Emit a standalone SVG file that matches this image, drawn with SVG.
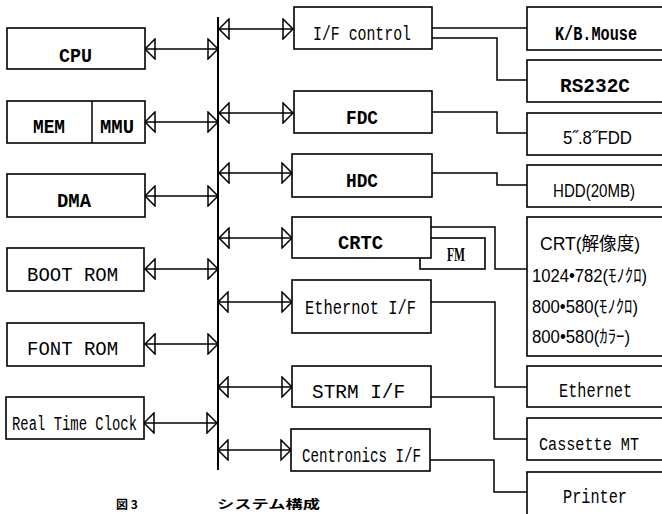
<svg xmlns="http://www.w3.org/2000/svg" width="662" height="514" viewBox="0 0 662 514">
<defs>
<style>
rect{fill:#fff;stroke:#000;stroke-width:1.6}
.c{fill:none;stroke:#000;stroke-width:1.5}
.ar{marker-start:url(#tri);marker-end:url(#tri)}
text{font-family:"Liberation Mono","DejaVu Sans Mono","Noto Sans CJK JP",monospace;font-size:20px;fill:#000}
.b{font-weight:bold}
.j{font-family:"Liberation Sans","Noto Sans CJK JP",sans-serif;font-size:18px}
.cap{font-family:"Noto Sans CJK JP",sans-serif;font-size:12px;font-weight:bold}
</style>
<marker id="tri" viewBox="-12 -11 13 22" refX="0" refY="0" markerWidth="13" markerHeight="22" markerUnits="userSpaceOnUse" orient="auto-start-reverse">
<path d="M0,0 L-10,-10 L-10,10 Z" fill="none" stroke="#000" stroke-width="1.5"/>
</marker>
</defs>
<rect width="662" height="514" style="fill:#fff;stroke:none"/>

<g id="connectors">
<line class="c" x1="218" y1="17" x2="218" y2="470" style="stroke-width:2"/>
<path class="c ar" d="M145,49 H218"/>
<path class="c ar" d="M145,122 H218"/>
<path class="c ar" d="M145,196 H218"/>
<path class="c ar" d="M145,269 H218"/>
<path class="c ar" d="M145,344 H218"/>
<path class="c ar" d="M144,423 H217"/>
<path class="c ar" d="M219,29 H293"/>
<path class="c ar" d="M219,113 H293"/>
<path class="c ar" d="M219,173 H292"/>
<path class="c ar" d="M219,238 H292"/>
<path class="c ar" d="M218,302 H292"/>
<path class="c ar" d="M218,387 H292"/>
<path class="c ar" d="M218,450 H291"/>
<path class="c" d="M432,28 H527"/>
<path class="c" d="M432,38 H497 V80 H527"/>
<path class="c" d="M432,112 H497 V133 H527"/>
<path class="c" d="M432,173 H497 V185 H527"/>
<path class="c" d="M431,227 H495 V269 H527"/>
<path class="c" d="M431,302 H495 V387 H527"/>
<path class="c" d="M431,397 H494 V439 H527"/>
<path class="c" d="M430,460 H494 V492 H527"/>
</g>

<g id="cpu"><rect x="7" y="28" width="138" height="41"/><text class="b" x="59" y="62" textLength="33" lengthAdjust="spacingAndGlyphs">CPU</text></g>
<g id="mem"><rect x="7" y="101" width="138" height="42"/><line class="c" x1="92" y1="101" x2="92" y2="143"/><text class="b" x="33" y="133" textLength="32" lengthAdjust="spacingAndGlyphs">MEM</text><text class="b" x="100" y="133" textLength="34" lengthAdjust="spacingAndGlyphs">MMU</text></g>
<g id="dma"><rect x="7" y="174" width="138" height="43"/><text class="b" x="57" y="207" textLength="34" lengthAdjust="spacingAndGlyphs">DMA</text></g>
<g id="bootrom"><rect x="7" y="248" width="137" height="43"/><text x="27" y="281" textLength="91" lengthAdjust="spacingAndGlyphs">BOOT ROM</text></g>
<g id="fontrom"><rect x="7" y="323" width="137" height="43"/><text x="27" y="355" textLength="91" lengthAdjust="spacingAndGlyphs">FONT ROM</text></g>
<g id="rtc"><rect x="6" y="397" width="138" height="42"/><text x="12" y="430" textLength="125" lengthAdjust="spacingAndGlyphs">Real Time Clock</text></g>

<g id="ifcontrol"><rect x="294" y="7" width="138" height="42"/><text x="313" y="40" textLength="98" lengthAdjust="spacingAndGlyphs">I/F control</text></g>
<g id="fdc"><rect x="294" y="91" width="138" height="42"/><text class="b" x="346" y="124" textLength="32" lengthAdjust="spacingAndGlyphs">FDC</text></g>
<g id="hdc"><rect x="292" y="154" width="140" height="43"/><text class="b" x="346" y="187" textLength="32" lengthAdjust="spacingAndGlyphs">HDC</text></g>
<g id="fm"><rect x="420" y="238" width="65" height="31"/><text class="b" x="447" y="261" textLength="18" lengthAdjust="spacingAndGlyphs" style="font-family:'Liberation Serif',serif;font-size:18px">FM</text></g>
<g id="crtc"><rect x="292" y="217" width="139" height="41"/><text class="b" x="338" y="249" textLength="45" lengthAdjust="spacingAndGlyphs">CRTC</text></g>
<g id="ethernetif"><rect x="292" y="280" width="139" height="53"/><text x="305" y="314" textLength="111" lengthAdjust="spacingAndGlyphs">Ethernot I/F</text></g>
<g id="strmif"><rect x="292" y="366" width="139" height="41"/><text x="312" y="398" textLength="93" lengthAdjust="spacingAndGlyphs">STRM I/F</text></g>
<g id="centronicsif"><rect x="291" y="429" width="139" height="42"/><text x="302" y="462" textLength="119" lengthAdjust="spacingAndGlyphs">Centronics I/F</text></g>

<g id="kbmouse"><rect x="527" y="7" width="145" height="43"/><text class="b" x="555" y="40" textLength="82" lengthAdjust="spacingAndGlyphs">K/B.Mouse</text></g>
<g id="rs232c"><rect x="527" y="60" width="145" height="42"/><text class="b" x="560" y="92" textLength="70" lengthAdjust="spacingAndGlyphs">RS232C</text></g>
<g id="fdd"><rect x="527" y="113" width="145" height="42"/><text class="j" x="563" y="144" textLength="69" lengthAdjust="spacingAndGlyphs">5˝.8˝FDD</text></g>
<g id="hdd"><rect x="527" y="165" width="145" height="42"/><text class="j" x="553" y="197" textLength="82" lengthAdjust="spacingAndGlyphs">HDD(20MB)</text></g>
<g id="crt"><rect x="527" y="217" width="145" height="139"/>
<text class="j" x="540" y="250" textLength="100" lengthAdjust="spacingAndGlyphs">CRT(解像度)</text>
<text class="j" x="532" y="282" textLength="115" lengthAdjust="spacingAndGlyphs">1024•782(ﾓﾉｸﾛ)</text>
<text class="j" x="532" y="313" textLength="106" lengthAdjust="spacingAndGlyphs">800•580(ﾓﾉｸﾛ)</text>
<text class="j" x="532" y="343" textLength="98" lengthAdjust="spacingAndGlyphs">800•580(ｶﾗｰ)</text></g>
<g id="ethernet"><rect x="527" y="366" width="145" height="41"/><text x="559" y="397" textLength="73" lengthAdjust="spacingAndGlyphs">Ethernet</text></g>
<g id="cassette"><rect x="527" y="418" width="145" height="42"/><text x="539" y="450" textLength="100" lengthAdjust="spacingAndGlyphs" style="font-size:18px">Cassette MT</text></g>
<g id="printer"><rect x="527" y="472" width="145" height="50"/><text x="563" y="503" textLength="64" lengthAdjust="spacingAndGlyphs">Printer</text></g>

<g id="caption"><text class="cap" x="116" y="509">図 3</text><text class="cap" x="217" y="509" textLength="103" lengthAdjust="spacingAndGlyphs">システム構成</text></g>
</svg>
